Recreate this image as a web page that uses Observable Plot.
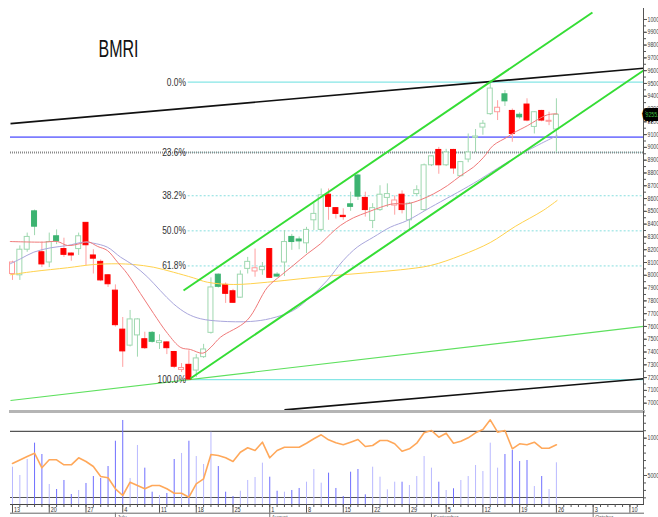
<!DOCTYPE html>
<html><head><meta charset="utf-8">
<script src="https://cdn.jsdelivr.net/npm/d3@7"></script>
<script src="https://cdn.jsdelivr.net/npm/@observablehq/plot@0.6"></script>
<style>
html,body{margin:0;padding:0;background:#fff;}
#wrap{position:relative;width:658px;height:517px;overflow:hidden;background:#fff;}
#main{position:absolute;left:0;top:0;}
#sub{position:absolute;left:0;top:409px;}
svg{display:block;}
</style></head><body>
<div id="wrap"><div id="main"></div><div id="sub"></div></div>
<script>
// ---------- data ----------
const title = "BMRI";
// trading-day index 0 = 13 June
const opens  = [8010,8000,8200,8500,8180,8100,8305,8205,8170,8205, 8410,8155,8105,8000,7880,7575,7450,7530,7500,7550, 7470,7475,7400,7260,7300,7255,7360,7550,8005,7925, 7875,7825,8050,8030,8040,8205,8005,8100,8300,8280, 8250,8430,8355,8630,8525,8465,8555,8780,8605,8425, 8510,8605,8545,8630,8430,8635,8510,8860,8980,8860, 8980,8775,8905,9075,9155,9260,9275,9415,9285,9255, 9335,9160,9285,9200,9140];
const highs  = [8110,8230,8330,8510,8260,8330,8355,8290,8175,8330, 8410,8200,8120,8005,7925,7670,7725,7660,7555,7560, 7535,7480,7405,7310,7410,7380,7460,7980,8010,7940, 7890,8035,8140,8205,8100,8210,8020,8350,8320,8300, 8375,8560,8675,8675,8530,8520,8650,8790,8650,8560, 8700,8715,8620,8660,8570,8700,8870,8935,9000,8985, 8985,8890,9105,9140,9210,9510,9365,9445,9300,9270, 9380,9280,9290,9275,9380];
const lows   = [7960,7960,8180,8310,8060,8060,8240,8140,8110,8155, 8075,8010,7950,7905,7595,7280,7440,7360,7420,7470, 7420,7380,7270,7240,7180,7200,7350,7540,7900,7780, 7780,7820,8010,7985,8000,7975,7985,7990,8195,8200, 8170,8350,8340,8430,8440,8430,8500,8585,8455,8365, 8500,8530,8470,8480,8350,8620,8500,8850,8790,8850, 8790,8770,8880,8960,9095,9250,9210,9320,9040,9220, 9200,9105,9200,9170,8960];
const closes = [8100,8200,8300,8380,8085,8260,8265,8160,8155,8305, 8235,8130,7960,7930,7610,7405,7655,7655,7430,7480, 7485,7430,7285,7275,7185,7350,7420,7905,7910,7855, 7785,8005,8105,8055,8065,7980,7990,8260,8260,8265, 8355,8480,8625,8535,8480,8455,8535,8615,8510,8525, 8630,8635,8585,8510,8560,8665,8860,8930,8860,8960, 8835,8885,8960,9085,9185,9460,9310,9360,9105,9235, 9210,9275,9210,9208,9255];
const firstPrevClose = 8150;

const volumes = [6110,5000,7140,9330,7810,3790,3120,4330,2450,2990, 3930,4860,4600,6200,9590,12370,4600,9020,5980,2760, 2320,2590,7140,7950,9590,7540,6470,10800,6200,2760, 2180,2890,4330,4730,6650,4770,2890,2760,2990,3260, 4100,5800,3970,5310,3260,2180,5440,5800,2410,6110, 4770,3080,4100,4100,3660,4860,7540,5980,4100,2990, 3220,4330,4860,6340,5530,9330,5980,7810,8350,6870, 7010,3520,4860,3120,6700];
const indicator = [6610,7075,7544,7986,6030,7102,7102,6432,6432,7370, 6874,6204,4864,4690,3216,2318,4100,3658,3216,3658, 3658,3216,2626,2626,2090,3886,4556,7812,7678,7370, 6874,8120,8710,8348,9460,7370,8348,8790,8790,8790, 9326,9916,10452,9782,9380,9112,9460,9822,8884,9018, 9688,9688,9246,8254,8576,9326,10720,11028,10130,10666, 9326,9594,10050,10720,11162,12462,10800,11028,8576,9246, 9112,9460,8656,8656,9112];
const indicatorLevels = [10900, 2050];

// moving averages, sampled along the curves (day index, price)
const maFastIdx = [-0.3,4.2,6.1,7.5,9.3,10.2,11.6,12.9,14.3,15.6,17.4,19.2,21.1,22.9,24.2,25.9,27,28.3,31.9,34.7,36.5,38.2,40.1,41.9,43.3,44.6,46.4,48.3,50.1,51.8,53.7,55.5,57.3,59.2,61,62.7,64.1,65.4,67.3,68.1,70.1,71.4,72.8,74.1];
const maFastVal = [8264,8259,8264,8233,8249,8264,8225,8194,8102,8014,7858,7701,7545,7435,7420,7391,7438,7516,7647,7907,7998,8077,8168,8246,8325,8389,8450,8493,8532,8559,8559,8590,8637,8702,8780,8845,8923,9015,9080,9111,9171,9216,9255,9263];
const maMidIdx = [-0.3,1.1,2.9,5.2,7.5,9.7,11,12.9,14.7,16.5,18.4,20.1,21.9,23.8,25.6,28.3,32.4,35.1,38.2,40.5,42.8,45,46.9,49.1,51.4,53.7,56.9,62.7,66.4,70.1,74.1];
const maMidVal = [8090,8129,8181,8215,8233,8259,8251,8220,8142,8077,7985,7881,7777,7699,7660,7641,7639,7662,7725,7829,7959,8116,8220,8298,8376,8428,8532,8718,8851,8976,9093];
const maSlowIdx = [-0.3,2.9,7.5,11,14.3,16.5,19.2,21.9,24.6,26.5,30.1,34.7,39.2,43.7,48.3,52.8,56.9,61,65,68.4,72.2,74.1];
const maSlowVal = [8004,8030,8059,8084,8090,8084,8063,8024,7980,7946,7928,7946,7973,7998,8020,8043,8077,8155,8256,8382,8507,8585];

// Fibonacci retracement
const fibHigh = 9510, fibLow = 7185, fibStartIdx = 23.9;
const fibRatios = [0, 0.236, 0.382, 0.5, 0.618, 1];
const fibLabels = ["0.0%", "23.6%", "38.2%", "50.0%", "61.8%", "100.0%"];

// horizontal levels
const blueLevel = 9080;
const greyLevel = 8960;

// drawn trend lines (day index, price)
const trendNames = ["resistance", "support", "channelTop", "channelBottom", "longSupport"];
const trendI1 = [-0.27, 37.0, 23.27, 24.2, -0.27];
const trendP1 = [9186, 6948, 7881, 7193, 7021];
const trendI2 = [85.85, 85.85, 78.9, 85.85, 85.85];
const trendP2 = [9619, 7191, 10055, 9601, 7600];

// x axis labels
const weekIdx = [0,5,10,15,20,25,30,35,40,45,49,54,59,64,69,74,79,84];
const weekLabels = ["13","20","27","4","11","18","25","1","8","15","22","29","5","12","19","26","3","10"];
const monthIdx = [14, 35, 57, 79];
const monthLabels = ["July", "August", "September", "October"];
const allDays = d3.range(0, 86);

// ---------- rendering ----------
const X_DOMAIN = [-0.272, 85.85];
const FONT = "'Liberation Sans Narrow','Arial Narrow','Liberation Sans',Arial,sans-serif";

const candles = opens.map((o, i) => ({i, o, h: highs[i], l: lows[i], c: closes[i], prev: i ? closes[i - 1] : firstPrevClose}));
const kind = d => d.c >= d.o ? (d.c >= d.prev ? "hu" : "hd") : (d.c >= d.prev ? "fu" : "fd");
const bodyFill = {hu: "#ffffff", hd: "#ffffff", fu: "#3cb371", fd: "#ff0000"};
const bodyStroke = {hu: "#9fd8b0", hd: "#ff9c9c", fu: "#3cb371", fd: "#ff0000"};
const wickStroke = {hu: "#9fd8b0", hd: "#ffa0a0", fu: "#9fd8b0", fd: "#ffa0a0"};

const trend = trendNames.map((name, k) => ({name, i1: trendI1[k], p1: trendP1[k], i2: trendI2[k], p2: trendP2[k]}));
const trendStyle = {
  resistance: {stroke: "#111", w: 1.6},
  support: {stroke: "#111", w: 1.6},
  channelTop: {stroke: "#35dd35", w: 2},
  channelBottom: {stroke: "#35dd35", w: 2},
  longSupport: {stroke: "#5ee05e", w: 1.2}
};
const fibs = fibRatios.map((r, k) => ({r, label: fibLabels[k], p: fibHigh - r * (fibHigh - fibLow)}));
const toPts = (idx, val) => idx.map((i, k) => ({i, v: val[k]}));

const main = Plot.plot({
  width: 658, height: 412,
  marginTop: 8, marginBottom: 1, marginLeft: 10, marginRight: 15,
  x: {domain: X_DOMAIN, axis: null, label: null},
  y: {domain: [6935, 10086], axis: null, label: null},
  color: {type: "identity"},
  style: {fontFamily: FONT, background: "transparent", color: "#333"},
  marks: [
    Plot.ruleY(fibs.filter(d => d.r === 0 || d.r === 1), {y: "p", x1: fibStartIdx, x2: X_DOMAIN[1], stroke: "#86e6e6", strokeWidth: 1.3}),
    Plot.ruleY(fibs.filter(d => d.r > 0 && d.r < 1), {y: "p", x1: fibStartIdx, x2: X_DOMAIN[1], stroke: "#86dede", strokeWidth: 1, strokeDasharray: "2,2"}),
    Plot.ruleY([greyLevel], {stroke: "#8a8a8a", strokeWidth: 2, strokeDasharray: "1,1"}),
    Plot.ruleY([blueLevel], {stroke: "#7c7cff", strokeWidth: 1.6}),
    Plot.link(trend.filter(d => d.name === "longSupport"), {x1: "i1", y1: "p1", x2: "i2", y2: "p2", stroke: d => trendStyle[d.name].stroke, strokeWidth: 1.2}),
    Plot.ruleX(candles, {x: "i", y1: "l", y2: "h", stroke: d => wickStroke[kind(d)], strokeWidth: 1}),
    Plot.rect(candles, {x1: d => d.i - 0.34, x2: d => d.i + 0.34, y1: "o", y2: "c", fill: d => bodyFill[kind(d)], stroke: d => bodyStroke[kind(d)], strokeWidth: 1}),
    Plot.line(toPts(maSlowIdx, maSlowVal), {x: "i", y: "v", curve: "catmull-rom", stroke: "#ffd24d", strokeWidth: 1}),
    Plot.line(toPts(maMidIdx, maMidVal), {x: "i", y: "v", curve: "catmull-rom", stroke: "#a9a6dc", strokeWidth: 1}),
    Plot.line(toPts(maFastIdx, maFastVal), {x: "i", y: "v", curve: "catmull-rom", stroke: "#f07a7a", strokeWidth: 1}),
    Plot.link(trend.filter(d => d.name !== "longSupport"), {x1: "i1", y1: "p1", x2: "i2", y2: "p2", stroke: d => trendStyle[d.name].stroke, strokeWidth: d => trendStyle[d.name].w}),
    Plot.text(fibs, {x: fibStartIdx - 0.3, y: "p", text: "label", textAnchor: "end", lineAnchor: "middle", fontSize: 10.5, fill: "#333", className: "fib-label"}),
    Plot.text([title], {frameAnchor: "top-left", dx: 108, dy: 41, text: d => d, textAnchor: "middle", lineAnchor: "middle", fontSize: 24, fill: "#111", className: "title-label"}),
    Plot.frame({anchor: "right", stroke: "#555"}),
    Plot.axisY({anchor: "right", ticks: d3.range(7000, 10050, 50), tickSize: 2, text: null, label: null, stroke: "#555"}),
    Plot.axisY({anchor: "right", ticks: d3.range(7000, 10001, 100), tickSize: 3, tickPadding: 1, tickFormat: d => String(d), label: null, fontSize: 6.5, fill: "#444", stroke: "#555"}),
    Plot.text([closes[closes.length - 1]], {x: X_DOMAIN[1], y: d => d, text: d => d.toFixed(2), textAnchor: "start", dx: 2, fontSize: 6.5, fill: "#3fbf3f", stroke: "#000", strokeWidth: 8, strokeLinejoin: "miter", paintOrder: "stroke", className: "price-label"})
  ]
});
document.getElementById("main").append(main);

const vol = volumes.map((v, i) => ({i, v, k: kind(candles[i])}));
const ind = indicator.map((v, i) => ({i, v}));
const sub = Plot.plot({
  width: 658, height: 108,
  marginTop: 2, marginBottom: 13, marginLeft: 10, marginRight: 15,
  x: {domain: X_DOMAIN, axis: null, label: null},
  y: {domain: [1112, 13574], axis: null, label: null},
  color: {type: "identity"},
  style: {fontFamily: FONT, background: "transparent", color: "#333"},
  marks: [
    Plot.frame({anchor: "top", stroke: "#b5b5b5", strokeWidth: 3}),
    Plot.ruleY(indicatorLevels, {stroke: "#555", strokeWidth: 1.2}),
    Plot.ruleX(vol, {x: "i", y: "v", stroke: d => (d.k === "fu" || d.k === "fd") ? "#6f6fff" : "#b9b9ff", strokeWidth: 1, clip: true}),
    Plot.line(ind, {x: "i", y: "v", stroke: "#ffa85a", strokeWidth: 1.6}),
    Plot.frame({anchor: "right", stroke: "#555"}),
    Plot.frame({anchor: "bottom", stroke: "#444"}),
    Plot.frame({anchor: "bottom", stroke: "#666", dy: 8.7}),
    Plot.axisY({anchor: "right", ticks: d3.range(2000, 13001, 1000), tickSize: 2, text: null, label: null, stroke: "#555"}),
    Plot.axisY({anchor: "right", ticks: [5000, 10000], tickSize: 3, tickPadding: 1, tickFormat: d => String(d), label: null, fontSize: 6.5, fill: "#444", stroke: "#555"}),
    Plot.axisX({anchor: "bottom", ticks: allDays, tickSize: 3, text: null, label: null, stroke: "#555"}),
    Plot.axisX({anchor: "bottom", ticks: weekIdx, tickSize: 8.7, text: null, label: null, stroke: "#555"}),
    Plot.text(weekIdx, {x: d => d, text: (d, k) => weekLabels[k], frameAnchor: "bottom", dy: 5, dx: 1.5, textAnchor: "start", lineAnchor: "middle", fontSize: 6.5, fill: "#333", className: "week-label"}),
    Plot.axisX({anchor: "bottom", ticks: monthIdx, tickSize: 6, dy: 8.7, text: null, label: null, stroke: "#777"}),
    Plot.text(monthIdx, {x: d => d, text: (d, k) => monthLabels[k], frameAnchor: "bottom", dy: 12.5, dx: 2, textAnchor: "start", lineAnchor: "middle", fontSize: 6, fill: "#555", className: "month-label"})
  ]
});
document.getElementById("sub").append(sub);

// narrow the Arial-like glyphs to match the condensed face of the original
function condense(nodes, ratio, fixed) {
  nodes.forEach(t => {
    let w = 0;
    try { w = t.getComputedTextLength(); } catch (e) { w = 0; }
    if (!(w > 0)) { try { w = t.getBBox().width; } catch (e) { w = 0; } }
    if (w > 0) {
      t.setAttribute("textLength", (fixed || w * ratio).toFixed(1));
      t.setAttribute("lengthAdjust", "spacingAndGlyphs");
    }
  });
}
const pick = (root, sel) => Array.from(root.querySelectorAll(sel));
condense(pick(main, ".title-label text, text.title-label"), 0, 40);
condense(pick(main, ".fib-label text, text.fib-label"), 0.8);
condense(pick(main, ".price-label text, text.price-label"), 0.8);
condense(pick(main, 'g[aria-label="y-axis tick label"] text'), 0.8);
condense(pick(sub, 'g[aria-label="y-axis tick label"] text'), 0.8);
condense(pick(sub, ".week-label text, text.week-label"), 0.85);
condense(pick(sub, ".month-label text, text.month-label"), 0.85);
</script>
</body></html>
